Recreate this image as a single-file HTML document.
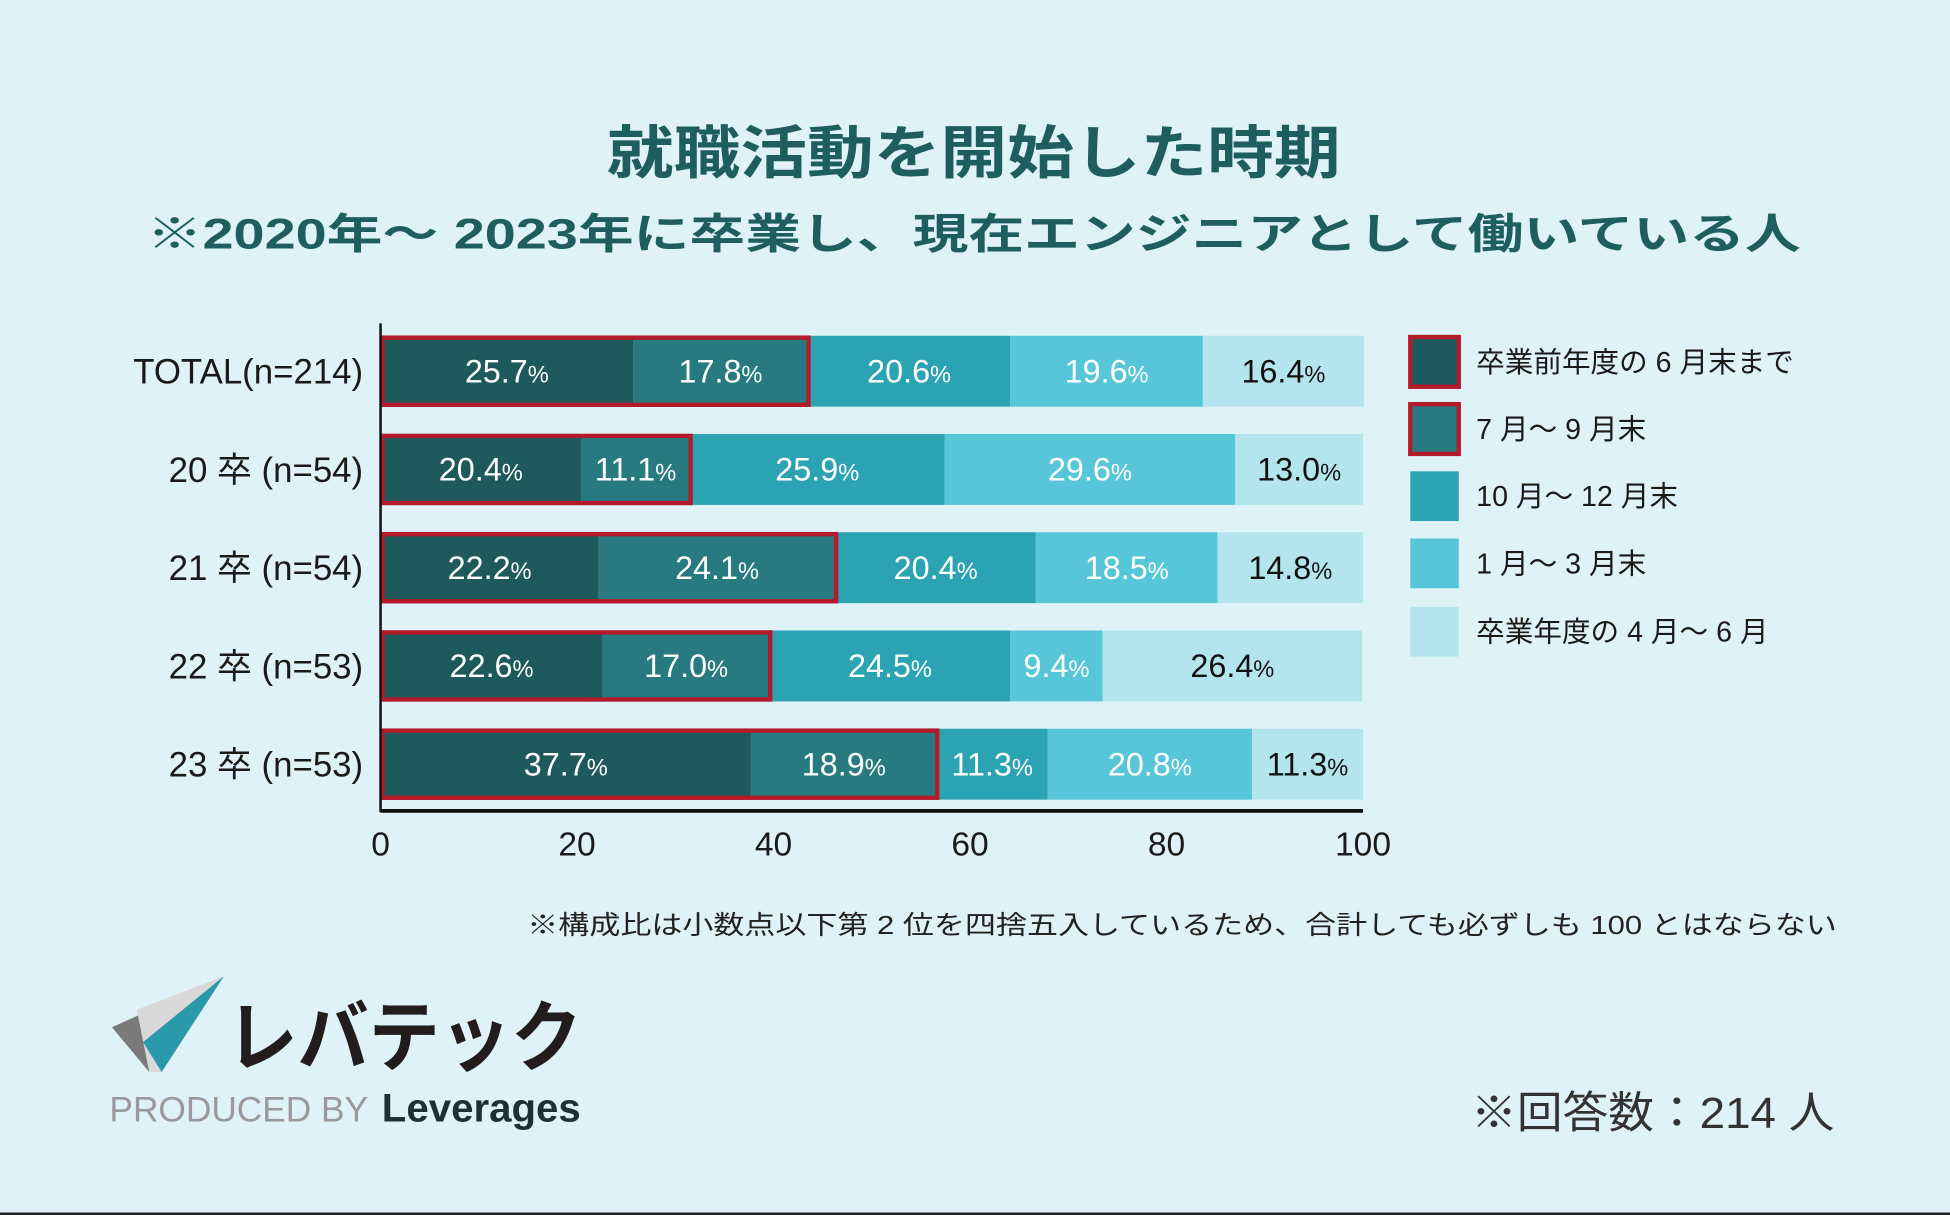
<!DOCTYPE html>
<html><head><meta charset="utf-8"><style>
html,body{margin:0;padding:0;background:#dff2f7;}
svg{display:block;font-family:"Liberation Sans","Noto Sans CJK JP",sans-serif;}
</style></head><body>
<svg id="chart" width="1950" height="1215" viewBox="0 0 1568 977" xmlns="http://www.w3.org/2000/svg">
<rect x="0" y="0" width="1568" height="977" fill="#dff2f7"/>
<text x="783" y="139" text-anchor="middle" font-size="46" font-weight="bold" fill="#1f5e5e" textLength="590" lengthAdjust="spacingAndGlyphs">就職活動を開始した時期</text>
<text x="783" y="200" text-anchor="middle" font-size="34" font-weight="bold" fill="#1f5e5e" textLength="1330" lengthAdjust="spacingAndGlyphs">※2020年～ 2023年に卒業し、現在エンジニアとして働いている人</text>
<g id="bars"></g>
<g id="axes"></g>
<g id="legend"></g>
<text x="424" y="751" font-size="21" fill="#222" textLength="1053" lengthAdjust="spacingAndGlyphs">※構成比は小数点以下第 2 位を四捨五入しているため、合計しても必ずしも 100 とはならない</text>
<g>
<polygon points="90,826 130,808 120,862" fill="#7a7a7a"/>
<polygon points="110,812 180,785 130,862 120,862" fill="#d8d8d8"/>
<polygon points="180,785 130,862 115,838" fill="#2a9aaa"/>
<text x="182" y="856" font-size="62" font-weight="bold" fill="#221c1c" textLength="286" lengthAdjust="spacingAndGlyphs">レバテック</text>
<text x="88" y="902" font-size="28" fill="#9a9a9a" textLength="208" lengthAdjust="spacingAndGlyphs">PRODUCED BY</text>
<text x="307" y="902" font-size="32" font-weight="bold" fill="#1e2f38" textLength="160" lengthAdjust="spacingAndGlyphs">Leverages</text>
</g>
<text x="1183" y="907" font-size="35" fill="#333" textLength="292" lengthAdjust="spacingAndGlyphs">※回答数：214 人</text>
<rect x="0" y="975" width="1568" height="2" fill="#222"/>
</svg>
<script>
const categories = ["TOTAL(n=214)", "20 卒 (n=54)", "21 卒 (n=54)", "22 卒 (n=53)", "23 卒 (n=53)"];
const seriesNames = ["卒業前年度の 6 月末まで", "7 月～ 9 月末", "10 月～ 12 月末", "1 月～ 3 月末", "卒業年度の 4 月～ 6 月"];
const s1 = [25.7, 20.4, 22.2, 22.6, 37.7];
const s2 = [17.8, 11.1, 24.1, 17.0, 18.9];
const s3 = [20.6, 25.9, 20.4, 24.5, 11.3];
const s4 = [19.6, 29.6, 18.5, 9.4, 20.8];
const s5 = [16.4, 13.0, 14.8, 26.4, 11.3];
const xTicks = [0, 20, 40, 60, 80, 100];

const NS = "http://www.w3.org/2000/svg";
const colors = ["#1e5a5c", "#267a80", "#2ba3b3", "#57c6d8", "#b4e5ec"];
const X0 = 306, X1 = 1096, BAR_TOP = 270, STEP = 79, BAR_H = 57;
function xs(v){ return X0 + (X1 - X0) * v / 100; }
function ys(i){ return BAR_TOP + i * STEP; }
function mk(tag, attrs, parent){ const e = document.createElementNS(NS, tag); for (const k in attrs) e.setAttribute(k, attrs[k]); parent.appendChild(e); return e; }

const series = [s1, s2, s3, s4, s5];
const bars = document.getElementById('bars');
categories.forEach((c, i) => {
  let acc = 0;
  const y = ys(i);
  series.forEach((s, k) => {
    const v = s[i];
    const r = mk('rect', {x: xs(acc), y: y, width: xs(acc + v) - xs(acc), height: BAR_H, fill: colors[k]}, bars);
    
    
    const t = mk('text', {x: (xs(acc) + xs(acc + v)) / 2, y: y + BAR_H / 2 + 9, 'text-anchor': 'middle', 'font-size': 26, fill: k === 4 ? '#111' : '#fff'}, bars);
    
    
    t.textContent = v.toFixed(1);
    const p = mk('tspan', {'font-size': 19}, t);
    p.textContent = '%';
    acc += v;
  });
  const hw = s1[i] + s2[i];
  const o = mk('rect', {x: X0 + 1.5, y: y + 1.5, width: xs(hw) - X0 - 1, height: BAR_H - 3, fill: 'none', stroke: '#b51a2a', 'stroke-width': 3.5}, bars);
  
  
  const l = mk('text', {x: 292, y: y + BAR_H / 2 + 10, 'text-anchor': 'end', 'font-size': 28, fill: '#1a1a1a'}, bars);
  
  
  l.textContent = c;
});

const axes = document.getElementById('axes');
const ya = mk('line', {x1: X0, y1: 260, x2: X0, y2: 653, stroke: '#111', 'stroke-width': 2}, axes);


const xa = mk('line', {x1: X0, y1: 652, x2: X1, y2: 652, stroke: '#111', 'stroke-width': 3}, axes);


xTicks.forEach(v => {
  const t = mk('text', {x: xs(v), y: 688, 'text-anchor': 'middle', 'font-size': 27, fill: '#1a1a1a'}, axes);
  
  
  t.textContent = v;
});

const legend = document.getElementById('legend');
const legY = [271, 325, 379, 433, 488];
seriesNames.forEach((n, k) => {
  const r = mk('rect', {x: 1134, y: legY[k], width: 39, height: 40, fill: colors[k]}, legend);
  if (k < 2) { r.setAttribute('stroke', '#b51a2a'); r.setAttribute('stroke-width', 3.5); }
  
  
  const t = mk('text', {x: 1187, y: legY[k] + 28, 'font-size': 23, fill: '#1a1a1a'}, legend);
  
  
  t.textContent = n;
});
</script>
</body></html>
